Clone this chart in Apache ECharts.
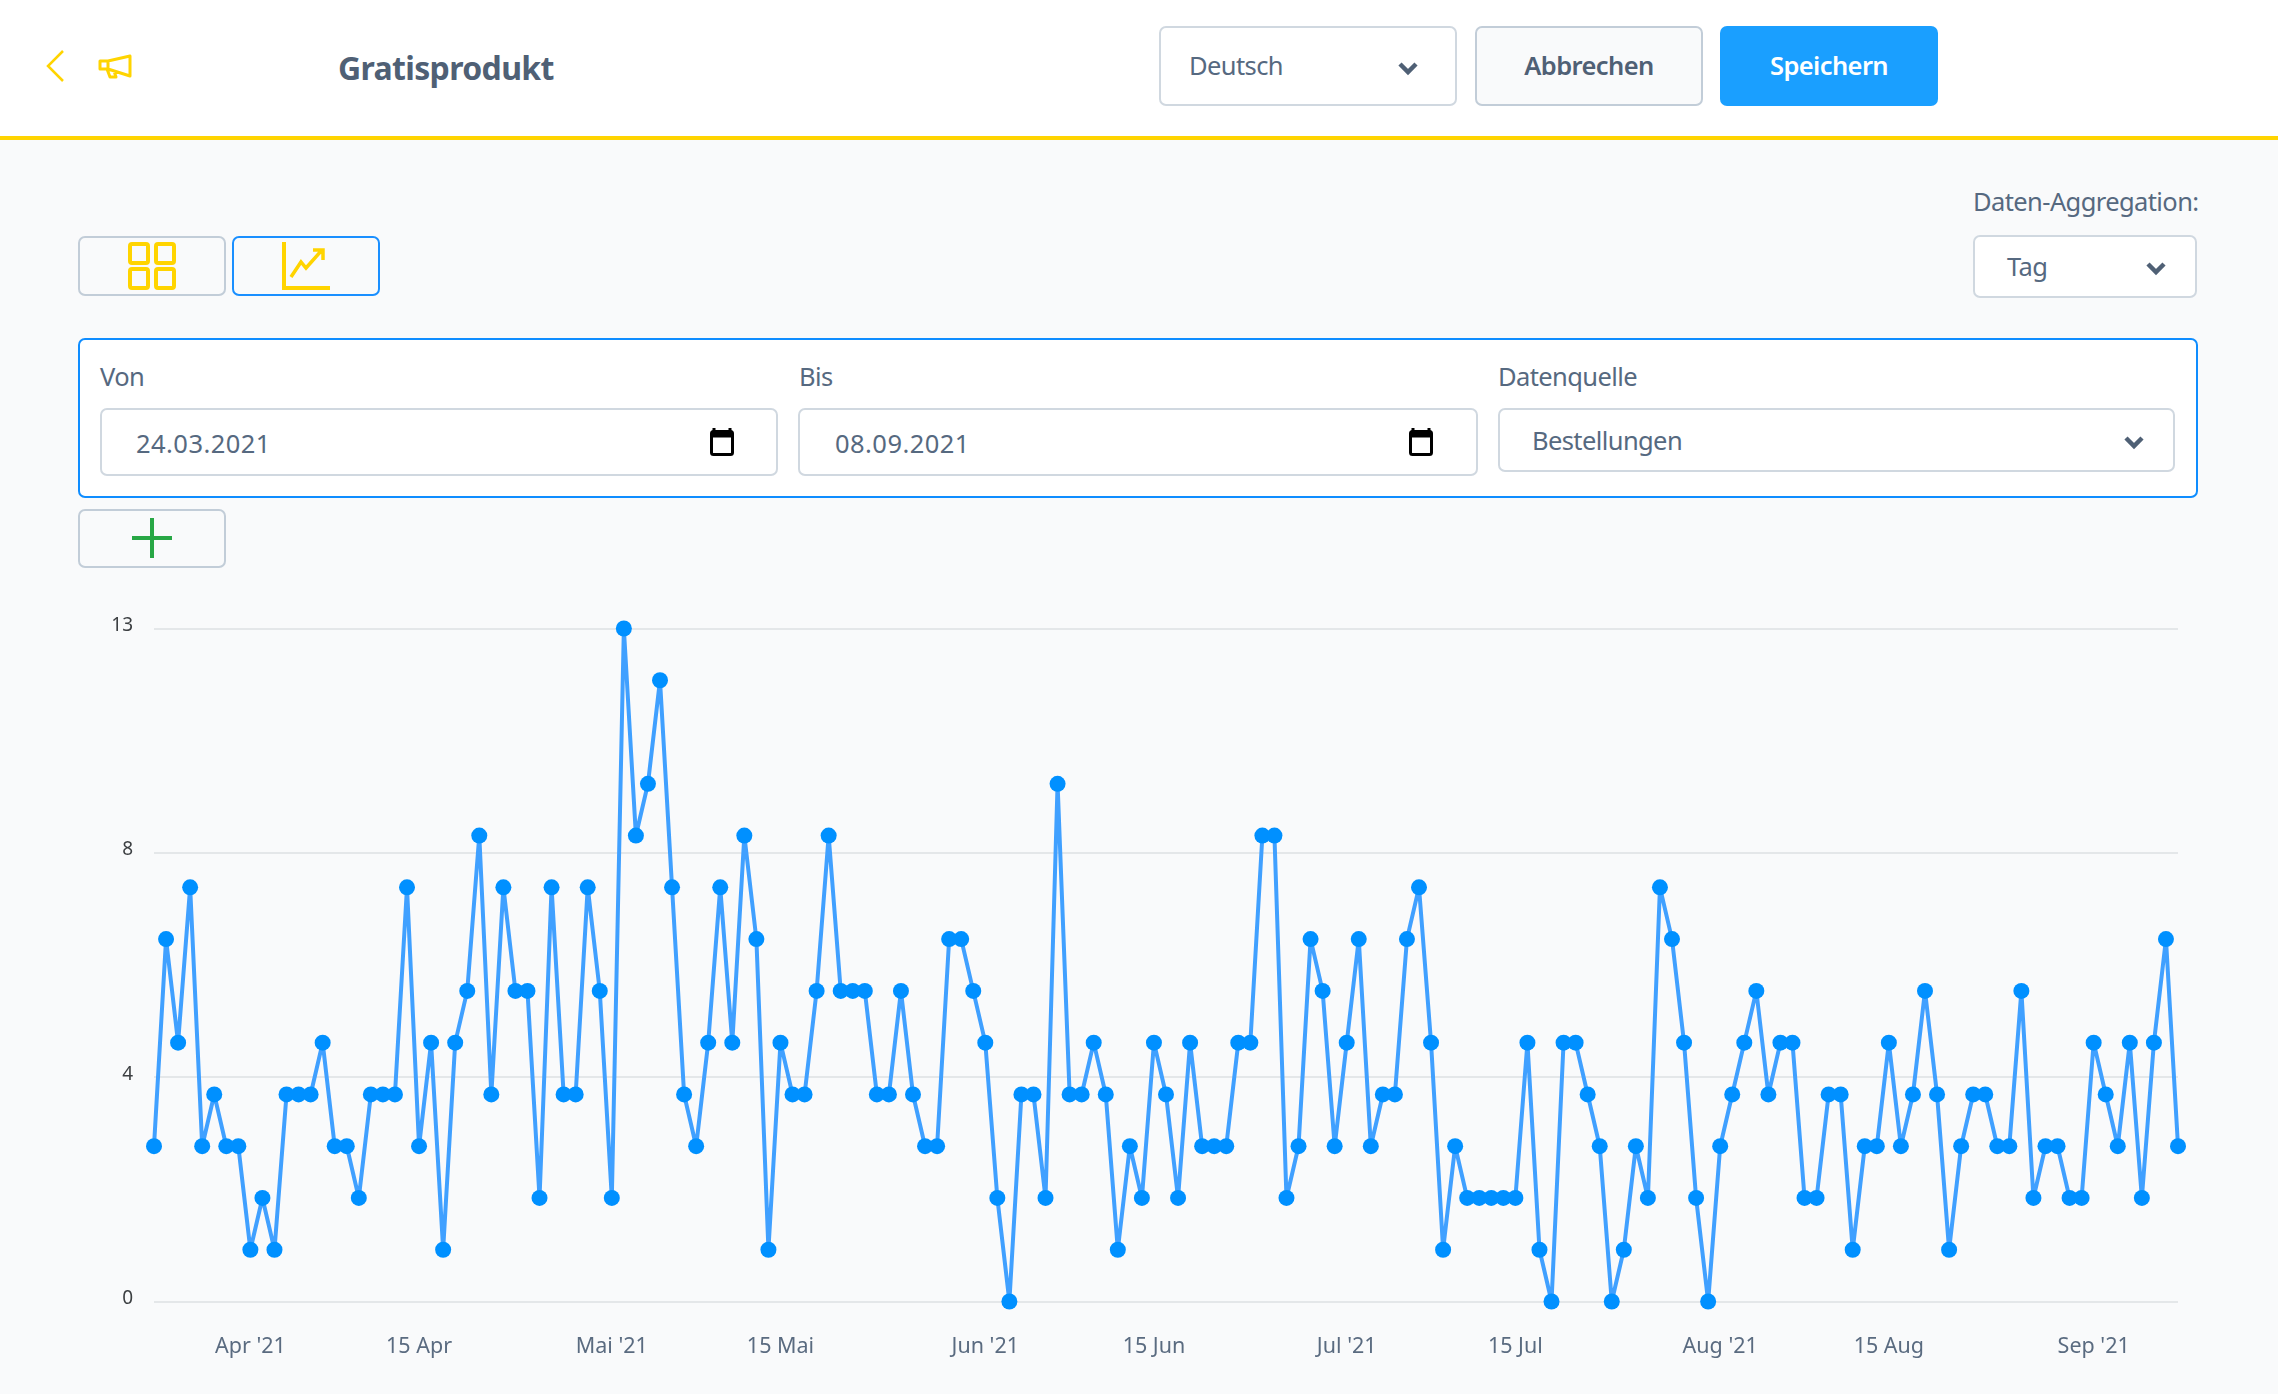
<!DOCTYPE html>
<html lang="de">
<head>
<meta charset="utf-8">
<title>Gratisprodukt</title>
<script src="https://cdn.jsdelivr.net/npm/echarts@6/dist/echarts.min.js"></script>
<style>
html,body{margin:0;padding:0;width:2278px;height:1394px;overflow:hidden;background:#f9fafb;font-family:"Noto Sans",sans-serif;color:#566980;}
.a{position:absolute;box-sizing:border-box;}
.t{position:absolute;white-space:nowrap;font-size:25.5px;letter-spacing:-.6px;line-height:1;transform:translateY(-50%);}
.box{background:#fff;border:2px solid #d0d8e0;border-radius:7px;}
.btn{background:#f9fafb;border:2px solid #c2cdd8;border-radius:7px;}
#chart{position:absolute;left:0;top:580px;width:2278px;height:814px;}
svg{position:absolute;overflow:visible;}
</style>
</head>
<body>
<div class="a" style="left:0;top:0;width:2278px;height:140px;background:#fff;border-bottom:4px solid #ffd400;"></div>
<svg style="left:46px;top:50px" width="18" height="32"><path d="M17 1L2 16L17 31" fill="none" stroke="#ffd400" stroke-width="2.5"/></svg>
<svg style="left:98px;top:54px" width="34" height="25"><path d="M32 2V22L10 15H2V7H10ZM10 7V15M9 15L12 23H18L16 17" fill="none" stroke="#ffd400" stroke-width="3" stroke-linejoin="round"/></svg>
<div class="t" style="left:338px;top:68px;font-size:32px;font-weight:700;color:#4f6075;letter-spacing:-.65px">Gratisprodukt</div>

<div class="a box" style="left:1159px;top:26px;width:298px;height:80px"></div>
<div class="t" style="left:1189px;top:66px;">Deutsch</div>
<svg style="left:1398px;top:62px" width="20" height="12"><path d="M2 2L10 10L18 2" fill="none" stroke="#4f6075" stroke-width="4.5"/></svg>
<div class="a btn" style="left:1475px;top:26px;width:228px;height:80px"></div>
<div class="t" style="left:1589px;top:66px;font-weight:600;color:#4f6075;transform:translate(-50%,-50%)">Abbrechen</div>
<div class="a" style="left:1720px;top:26px;width:218px;height:80px;background:#1a9fff;border-radius:7px"></div>
<div class="t" style="left:1829px;top:66px;font-weight:600;color:#fff;transform:translate(-50%,-50%)">Speichern</div>

<div class="t" style="left:1973px;top:202px;">Daten-Aggregation:</div>
<div class="a box" style="left:1973px;top:235px;width:224px;height:63px"></div>
<div class="t" style="left:2007px;top:267px;">Tag</div>
<svg style="left:2146px;top:262px" width="20" height="12"><path d="M2 2L10 10L18 2" fill="none" stroke="#4f6075" stroke-width="4.5"/></svg>

<div class="a btn" style="left:78px;top:236px;width:148px;height:60px"></div>
<svg style="left:128px;top:242px" width="48" height="48"><g fill="none" stroke="#ffd400" stroke-width="4"><rect x="2" y="2" width="18" height="19" rx="2"/><rect x="28" y="2" width="18" height="19" rx="2"/><rect x="2" y="27" width="18" height="19" rx="2"/><rect x="28" y="27" width="18" height="19" rx="2"/></g></svg>
<div class="a btn" style="left:232px;top:236px;width:148px;height:60px;border-color:#1a8fff"></div>
<svg style="left:282px;top:242px" width="48" height="48"><path d="M2 0V46H48" fill="none" stroke="#ffd400" stroke-width="4"/><path d="M9 35L19 20L24 26L40 8M31 8H41V18" fill="none" stroke="#ffd400" stroke-width="3.5"/></svg>

<div class="a" style="left:78px;top:338px;width:2120px;height:160px;background:#fff;border:2px solid #0f8dff;border-radius:7px"></div>
<div class="t" style="left:100px;top:377px;">Von</div>
<div class="a box" style="left:100px;top:408px;width:678px;height:68px"></div>
<div class="t" style="left:136px;top:444px;letter-spacing:.45px">24.03.2021</div>
<svg style="left:710px;top:428px" width="24" height="28"><path d="M4 0V4M20 0V4" stroke="#000" stroke-width="3"/><rect x="1.5" y="3.5" width="21" height="23" rx="2" fill="#fff" stroke="#000" stroke-width="3"/><rect x="1.5" y="3.5" width="21" height="6" fill="#000"/></svg>
<div class="t" style="left:799px;top:377px;">Bis</div>
<div class="a box" style="left:798px;top:408px;width:680px;height:68px"></div>
<div class="t" style="left:835px;top:444px;letter-spacing:.45px">08.09.2021</div>
<svg style="left:1409px;top:428px" width="24" height="28"><path d="M4 0V4M20 0V4" stroke="#000" stroke-width="3"/><rect x="1.5" y="3.5" width="21" height="23" rx="2" fill="#fff" stroke="#000" stroke-width="3"/><rect x="1.5" y="3.5" width="21" height="6" fill="#000"/></svg>
<div class="t" style="left:1498px;top:377px;">Datenquelle</div>
<div class="a box" style="left:1498px;top:408px;width:677px;height:64px"></div>
<div class="t" style="left:1532px;top:441px;">Bestellungen</div>
<svg style="left:2124px;top:436px" width="20" height="12"><path d="M2 2L10 10L18 2" fill="none" stroke="#4f6075" stroke-width="4.5"/></svg>

<div class="a btn" style="left:78px;top:509px;width:148px;height:59px"></div>
<svg style="left:132px;top:518px" width="40" height="40"><path d="M20 0V40M0 20H40" stroke="#28a745" stroke-width="4"/></svg>

<div id="chart"></div>
<script>
const startDay = '2021-03-24';
const orders = [3,7,5,8,3,4,3,3,1,2,1,4,4,4,5,3,3,2,4,4,4,8,3,5,1,5,6,9,4,8,6,6,2,8,4,4,8,6,2,13,9,10,12,8,4,3,5,8,5,9,7,1,5,4,4,6,9,6,6,6,4,4,6,4,3,3,7,7,6,5,2,0,4,4,2,10,4,4,5,4,1,3,2,5,4,2,5,3,3,3,5,5,9,9,2,3,7,6,3,5,7,3,4,4,7,8,5,1,3,2,2,2,2,2,5,1,0,5,5,4,3,0,1,3,2,8,7,5,2,0,3,4,5,6,4,5,5,2,2,4,4,1,3,3,5,3,4,6,4,1,3,4,4,3,3,6,2,3,3,2,2,5,4,3,5,2,5,7,3];
const tickDays = ['2021-04-01','2021-04-15','2021-05-01','2021-05-15','2021-06-01','2021-06-15','2021-07-01','2021-07-15','2021-08-01','2021-08-15','2021-09-01'];
const tickLabels = ["Apr '21",'15 Apr',"Mai '21",'15 Mai',"Jun '21",'15 Jun',"Jul '21",'15 Jul',"Aug '21",'15 Aug',"Sep '21"];
const yMax = 13;
const ySteps = 3;

const days = orders.map((_, i) => {
  const d = new Date(startDay + 'T00:00:00Z');
  d.setUTCDate(d.getUTCDate() + i);
  return d.toISOString().slice(0, 10);
});
const chart = echarts.init(document.getElementById('chart'), null, {renderer: 'canvas'});
chart.setOption({
  animation: false,
  backgroundColor: 'transparent',
  grid: {left: 154, right: 100, top: 48.5, height: 673, containLabel: false},
  xAxis: {
    type: 'category', data: days, boundaryGap: false,
    axisLine: {show: false}, axisTick: {show: false}, splitLine: {show: false},
    axisLabel: {
      interval: (i, v) => tickDays.includes(v),
      formatter: v => tickLabels[tickDays.indexOf(v)],
      margin: 34, color: '#5a6b80', fontSize: 21.5, fontFamily: 'Noto Sans'
    }
  },
  yAxis: {
    type: 'value', min: 0, max: yMax, interval: yMax / ySteps,
    axisLine: {show: false}, axisTick: {show: false},
    splitLine: {show: true, lineStyle: {color: '#e4e7e9', width: 2}},
    axisLabel: {
      formatter: v => String(Math.floor(v + 1e-6)),
      margin: 21, color: '#3c3f42', fontSize: 19, fontFamily: 'Noto Sans',
      verticalAlign: 'bottom', lineHeight: 6
    }
  },
  series: [{
    type: 'line', data: orders, showAllSymbol: true, symbol: 'circle', symbolSize: 16, clip: false,
    lineStyle: {color: '#40a0ff', width: 4},
    itemStyle: {color: '#0090ff'}
  }]
});
</script>
</body>
</html>
